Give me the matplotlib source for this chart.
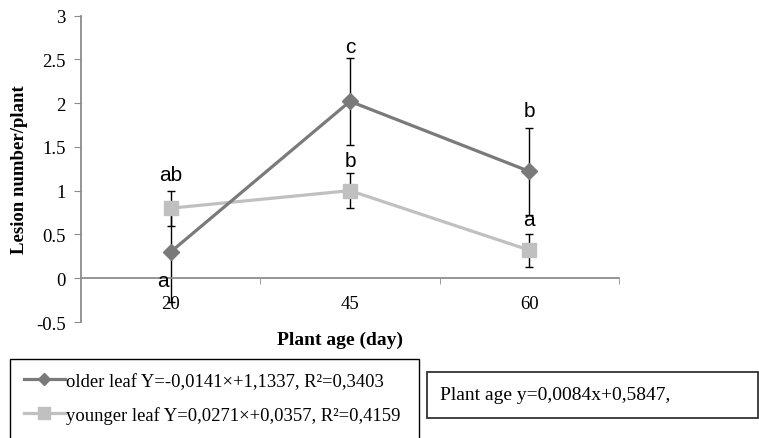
import matplotlib.pyplot as plt
from matplotlib.patches import Rectangle
from matplotlib.lines import Line2D

ages = ['20', '45', '60']
older = [0.30, 2.02, 1.22]
older_err = [0.57, 0.50, 0.50]
younger = [0.80, 1.00, 0.32]
younger_err = [0.20, 0.20, 0.19]
older_letters = ['a', 'c', 'b']
older_letter_y = [-0.03, 2.65, 1.91]
younger_letters = ['ab', 'b', 'a']
younger_letter_y = [1.18, 1.34, 0.67]

plt.rcParams['font.family'] = 'Liberation Serif'

W, H = 759, 439
fig = plt.figure(figsize=(W / 100, H / 100), dpi=100)
ax = fig.add_axes([81 / W, 1 - 323 / H, (619 - 81) / W, (323 - 16.5) / H])

x = list(range(len(ages)))
sans = 'Liberation Sans'
axis_grey = '#8c8c8c'

ax.spines['top'].set_visible(False)
ax.spines['right'].set_visible(False)
ax.spines['bottom'].set_position(('data', 0))
for s in ('left', 'bottom'):
    ax.spines[s].set_color(axis_grey)
    ax.spines[s].set_linewidth(1.3)

ax.errorbar(x, older, yerr=older_err, fmt='none', ecolor='black', elinewidth=1,
            capsize=3, capthick=1, zorder=2)
ax.errorbar(x, younger, yerr=younger_err, fmt='none', ecolor='black', elinewidth=1,
            capsize=3, capthick=1, zorder=2)
ax.plot(x, younger, color='#c0c0c0', lw=2.3, marker='s', ms=9.5, zorder=3)
ax.plot(x, older, color='#7a7a7a', lw=2.3, marker='D', ms=8, zorder=4)

for i in x:
    dx = -0.045 if i == 0 else 0
    ax.text(i + dx, older_letter_y[i], older_letters[i], ha='center', va='center',
            fontsize=15, family=sans)
    ax.text(i, younger_letter_y[i], younger_letters[i], ha='center', va='center',
            fontsize=15, family=sans)

ax.set_xlim(-0.5, 2.5)
ax.set_ylim(-0.5, 3)
ax.set_yticks([-0.5, 0, 0.5, 1, 1.5, 2, 2.5, 3])
ax.set_yticklabels(['-0.5', '0', '0.5', '1', '1.5', '2', '2.5', '3'])
ax.set_xticks(x)
ax.set_xticklabels(ages)
ax.set_xticks([0.5, 1.5, 2.5], minor=True)
ax.tick_params(axis='x', which='major', length=0, pad=12, labelsize=13.5)
ax.tick_params(axis='x', which='minor', length=4, color=axis_grey, direction='out')
ax.tick_params(axis='y', length=5, color=axis_grey, pad=6, labelsize=13.5)

fig.text(20 / W, 1 - 170 / H, 'Lesion number/plant', rotation=90, ha='center',
         va='center', fontsize=13.5, fontweight='bold')
fig.text(340 / W, 1 - 340 / H, 'Plant age (day)', ha='center', va='center',
         fontsize=14, fontweight='bold')

# legend box and equation box
fig.patches.append(Rectangle((10 / W, 1 - 450 / H), (419 - 10) / W, 90 / H,
                             transform=fig.transFigure, fill=False, ec='black', lw=1))
fig.patches.append(Rectangle((427 / W, 1 - 419 / H), (758 - 427) / W, 46 / H,
                             transform=fig.transFigure, fill=False, ec='#333333', lw=1.3))

handles = [
    Line2D([], [], color='#7a7a7a', lw=2.3, marker='D', ms=6),
    Line2D([], [], color='#c0c0c0', lw=2.3, marker='s', ms=9),
]
labels = [
    'older leaf Y=-0,0141×+1,1337, R²=0,3403',
    'younger leaf Y=0,0271×+0,0357, R²=0,4159',
]
fig.legend(handles, labels, loc='upper left', bbox_to_anchor=(10 / W, 1 - 360 / H),
           frameon=False, prop={'size': 13.4}, handlelength=2.2,
           handletextpad=0.05, labelspacing=0.85, borderpad=0.75, borderaxespad=0)

fig.text(440 / W, 1 - 396 / H, 'Plant age y=0,0084x+0,5847,', ha='left', va='center',
         fontsize=14)

fig.savefig('out.png', dpi=100)
